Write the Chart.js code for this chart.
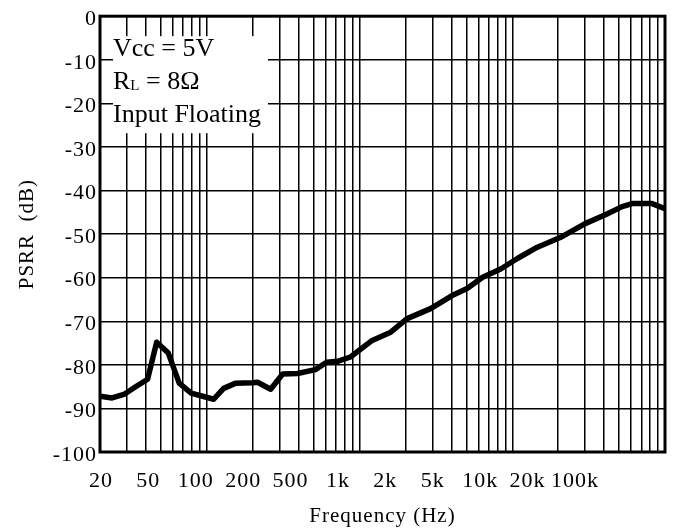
<!DOCTYPE html>
<html>
<head>
<meta charset="utf-8">
<script src="https://cdn.jsdelivr.net/npm/chart.js@4/dist/chart.umd.min.js"></script>
<style>
  body { margin: 0; background: #fff; }
</style>
</head>
<body>
<canvas id="psrrChart" width="678" height="529"></canvas>
<script>
// PSRR vs frequency
const freqHz = [20, 24, 29, 34, 41, 47, 56, 66, 79, 94, 111, 129, 155, 200, 215, 262, 314, 393,
  514, 609, 719, 872, 1210, 1600, 2050, 2920, 4040, 5060, 6400, 8400, 10800, 14600,
  20600, 30000, 41700, 52400, 60900, 82300, 100000];
const psrrDb = [-87.2, -87.6, -86.7, -85.1, -83.3, -74.8, -77.3, -84.2, -86.5, -87.2, -87.9, -85.4,
  -84.2, -84.1, -84.0, -85.6, -82.1, -82.0, -81.1, -79.4, -79.2, -78.2, -74.4, -72.5, -69.4,
  -67.1, -64.1, -62.5, -59.9, -58.0, -55.6, -53.0, -50.8, -47.6, -45.4, -43.7, -43.0, -43.0, -44.2];
const xTickLabels = ['20', '50', '100', '200', '500', '1k', '2k', '5k', '10k', '20k', '100k'];
const noteLines = ['Vcc = 5V', 'R|L| = 8\u03A9', 'Input Floating'];

const FONT = '"Liberation Serif", "Times New Roman", serif';

// log grid: 1..9 in every decade between 20 Hz and 100 kHz
const gridValues = [];
for (let d = 10; d <= 100000; d *= 10) {
  for (let m = 1; m <= 9; m++) {
    const v = m * d;
    if (v >= 20 && v <= 100000) gridValues.push(v);
  }
}

const spacing = {
  id: 'spacing',
  beforeLayout(chart) { chart.ctx.letterSpacing = '1px'; },
  beforeDraw(chart) { chart.ctx.letterSpacing = '1px'; }
};

const noteBox = {
  id: 'noteBox',
  beforeDatasetsDraw(chart) {
    const { ctx, chartArea } = chart;
    const x = chartArea.left + 13, y = chartArea.top + 20;
    ctx.save();
    ctx.letterSpacing = '0px';
    ctx.fillStyle = '#fff';
    ctx.fillRect(x, y, 155, 97);
    ctx.fillStyle = '#000';
    ctx.textBaseline = 'middle';
    noteLines.forEach((line, i) => {
      const ly = y + 13 + i * 33;
      let lx = x;
      line.split('|').forEach((part, k) => {
        ctx.font = (k === 1 ? '15px ' : '26px ') + FONT;
        ctx.fillText(part, lx, k === 1 ? ly + 4 : ly);
        lx += ctx.measureText(part).width;
      });
    });
    ctx.restore();
  }
};

const frame = {
  id: 'frame',
  afterDatasetsDraw(chart) {
    const { ctx, chartArea: a } = chart;
    ctx.save();
    ctx.strokeStyle = '#000';
    ctx.lineWidth = 3;
    ctx.strokeRect(a.left, a.top, a.right - a.left, a.bottom - a.top);
    ctx.restore();
  }
};

const ctx = document.getElementById('psrrChart').getContext('2d');
const chart = new Chart(ctx, {
  type: 'line',
  data: {
    datasets: [{
      data: freqHz.map((f, i) => ({ x: f, y: psrrDb[i] })),
      borderColor: '#000',
      borderWidth: 5.5,
      borderJoinStyle: 'round',
      borderCapStyle: 'round',
      pointRadius: 0,
      tension: 0,
      fill: false
    }]
  },
  options: {
    responsive: false,
    animation: false,
    layout: { padding: { top: 15, right: 13, left: 0, bottom: 0 } },
    plugins: { legend: { display: false }, tooltip: { enabled: false } },
    scales: {
      x: {
        type: 'logarithmic',
        min: 20,
        max: 100000,
        position: 'bottom',
        afterBuildTicks: (scale) => { scale.ticks = gridValues.map(v => ({ value: v })); },
        afterFit: (scale) => { scale.height = 0; },
        ticks: { display: false },
        border: { display: false },
        grid: { color: '#000', lineWidth: 1.5, drawTicks: false }
      },
      xl: {
        type: 'linear',
        position: 'bottom',
        min: -0.02,
        max: 11.9,
        afterBuildTicks: (scale) => { scale.ticks = xTickLabels.map((t, i) => ({ value: i })); },
        afterFit: (scale) => { scale.height = 77; },
        ticks: {
          autoSkip: false,
          maxRotation: 0,
          padding: 8,
          color: '#000',
          font: { family: FONT, size: 22 },
          callback: (v) => xTickLabels[v]
        },
        border: { display: false },
        grid: { display: false },
        title: {
          display: true,
          text: 'Frequency (Hz)',
          color: '#000',
          font: { family: FONT, size: 21 },
          padding: { top: 0, bottom: 0 }
        }
      },
      y: {
        min: -100,
        max: 0,
        afterFit: (scale) => { scale.width = 100; },
        ticks: {
          stepSize: 10,
          padding: 3,
          labelOffset: 3,
          color: '#000',
          font: { family: FONT, size: 22 }
        },
        border: { display: false },
        grid: { color: '#000', lineWidth: 1.5, drawTicks: false },
        title: {
          display: true,
          text: 'PSRR  (dB)',
          color: '#000',
          font: { family: FONT, size: 21 },
          padding: { top: 15, bottom: 0 }
        }
      }
    }
  },
  plugins: [spacing, noteBox, frame]
});
</script>
</body>
</html>
